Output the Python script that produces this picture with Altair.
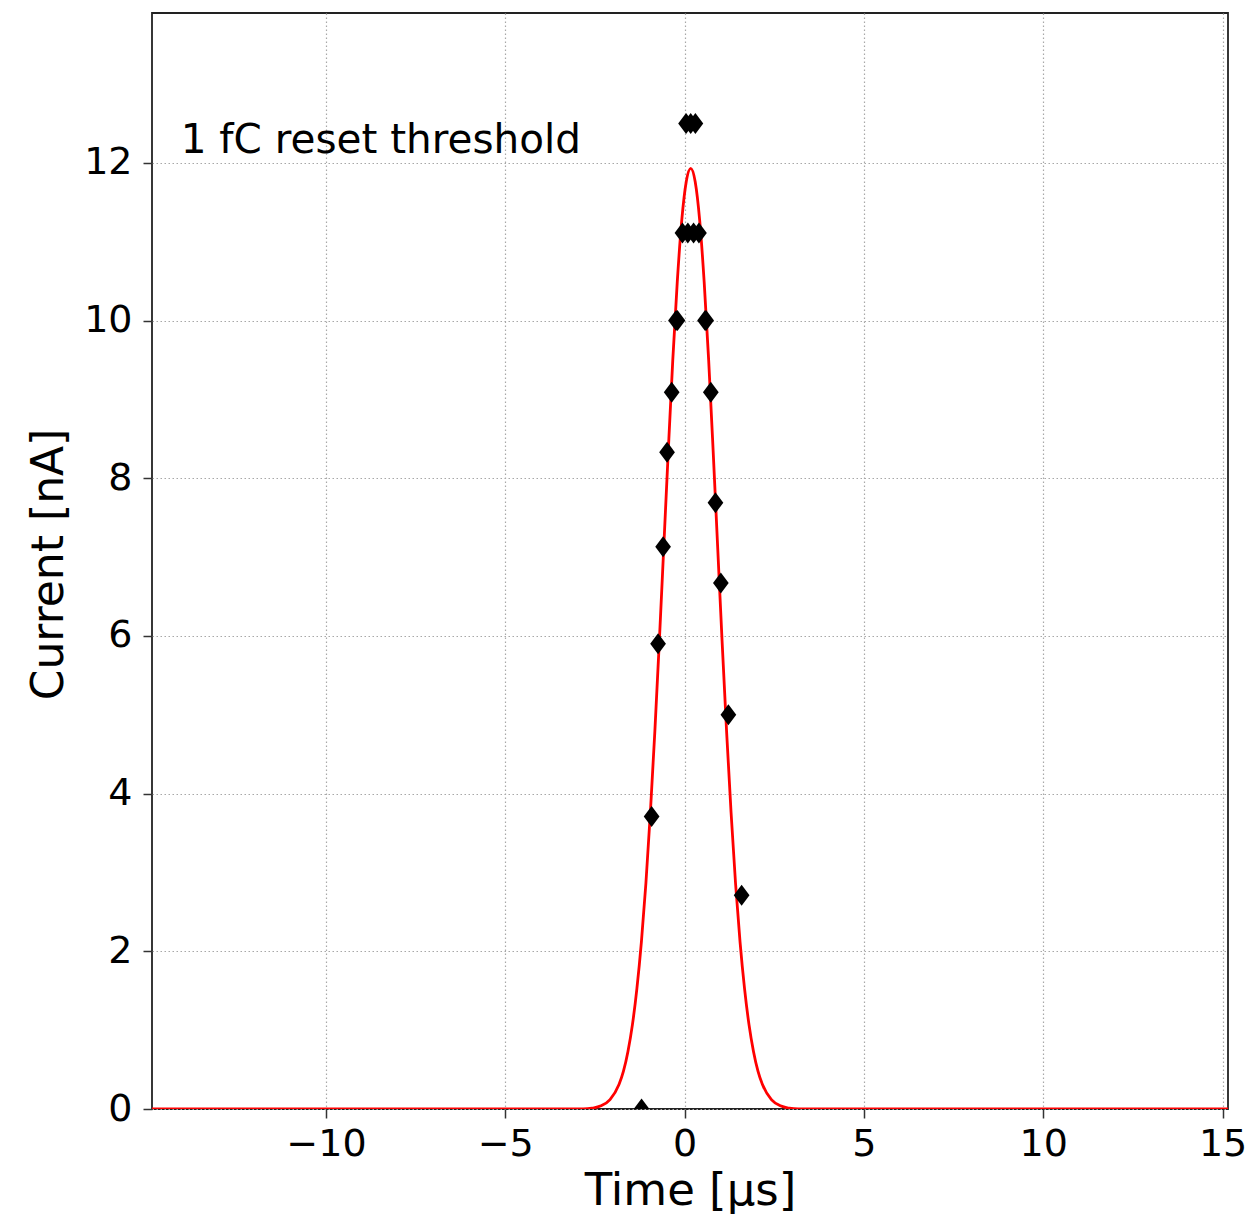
import altair as alt
import pandas as pd

# ---- data ----
curve_t = [-14.85, -2.83, -2.58, -2.33, -2.08, -1.83, -1.705, -1.58, -1.455, -1.33, -1.205,
           -1.08, -0.955, -0.83, -0.705, -0.58, -0.455, -0.33, -0.205, -0.08, 0.045, 0.17,
           0.295, 0.42, 0.545, 0.67, 0.795, 0.92, 1.045, 1.17, 1.295, 1.42, 1.545, 1.67,
           1.795, 1.92, 2.045, 2.17, 2.42, 2.67, 2.92, 3.17, 15.15]
curve_i = [0.0, 0.00, 0.01, 0.04, 0.12, 0.31, 0.48, 0.73, 1.07, 1.53, 2.12,
           2.86, 3.76, 4.79, 5.93, 7.14, 8.35, 9.50, 10.49, 11.27, 11.76, 11.93,
           11.76, 11.27, 10.49, 9.50, 8.35, 7.14, 5.93, 4.79, 3.76, 2.86, 2.12, 1.53,
           1.07, 0.73, 0.48, 0.31, 0.12, 0.04, 0.01, 0.00, 0.0]

point_t = [-1.20, -0.92, -0.74, -0.60, -0.49, -0.36, -0.24, -0.20,
           -0.06, 0.09, 0.25, 0.40, 0.04, 0.17, 0.30,
           0.57, 0.60, 0.73, 0.86, 1.01, 1.22, 1.59]
point_i = [0.0, 3.71, 5.90, 7.13, 8.33, 9.09, 10.0, 10.0,
           11.11, 11.11, 11.11, 11.11, 12.5, 12.5, 12.5,
           10.0, 10.0, 9.09, 7.69, 6.67, 5.0, 2.71]

x_ticks = [-10, -5, 0, 5, 10, 15]
y_ticks = [0, 2, 4, 6, 8, 10, 12]
x_domain = [-14.85, 15.15]
y_domain = [0, 13.9]

note_text = ["1 fC reset threshold"]
note_t = [-14.05]
note_i = [12.12]

x_title = "Time [μs]"
y_title = "Current [nA]"

FONT = "DejaVu Sans"

curve_df = pd.DataFrame({"t": curve_t, "i": curve_i})
pts_df = pd.DataFrame({"t": point_t, "i": point_i})
note_df = pd.DataFrame({"t": note_t, "i": note_i, "label": note_text})

W, H = 1076, 1096

xscale = alt.Scale(domain=x_domain, nice=False, zero=False)
yscale = alt.Scale(domain=y_domain, nice=False, zero=False)

xaxis = alt.Axis(values=x_ticks, format="d", title=x_title,
                 labelFont=FONT, labelFontSize=38, labelColor="black", labelPadding=7,
                 tickSize=9, tickWidth=1.5, tickColor="#333333",
                 grid=True, gridDash=[1.5, 2.5], gridColor="#a8a8a8", gridWidth=1.2,
                 domain=False,
                 titleFont=FONT, titleFontSize=45, titleFontWeight="normal", titleColor="black",
                 titleX=W / 2, titleY=95, titleAlign="center", titleBaseline="alphabetic")
yaxis = alt.Axis(values=y_ticks, format="d", title=y_title,
                 labelFont=FONT, labelFontSize=38, labelColor="black", labelPadding=11,
                 tickSize=9, tickWidth=1.5, tickColor="#333333",
                 grid=True, gridDash=[1.5, 2.5], gridColor="#a8a8a8", gridWidth=1.2,
                 domain=False,
                 titleFont=FONT, titleFontSize=44, titleFontWeight="normal", titleColor="black",
                 titleX=-90, titleY=551, titleAngle=270, titleAlign="center",
                 titleBaseline="alphabetic")

line = alt.Chart(curve_df).mark_line(color="#ff0000", strokeWidth=2.8, clip=True,
                                     interpolate="monotone").encode(
    x=alt.X("t:Q", scale=xscale, axis=xaxis),
    y=alt.Y("i:Q", scale=yscale, axis=yaxis),
    order="t:Q",
)

diamond = "M0,-1L0.75,0L0,1L-0.75,0Z"
points = alt.Chart(pts_df).mark_point(shape=diamond, filled=True, color="black",
                                      size=440, opacity=1, clip=True).encode(
    x=alt.X("t:Q", scale=xscale),
    y=alt.Y("i:Q", scale=yscale),
)

note = alt.Chart(note_df).mark_text(font=FONT, fontSize=40.5, align="left",
                                    baseline="alphabetic", color="black").encode(
    x=alt.X("t:Q", scale=xscale),
    y=alt.Y("i:Q", scale=yscale),
    text="label:N",
)

chart = alt.layer(line, points, note).properties(
    width=W, height=H,
    autosize=alt.AutoSizeParams(type="none"),
    padding={"left": 152, "top": 13, "right": 18, "bottom": 114},
    background="white",
).configure_view(stroke="#222222", strokeWidth=1.8)

chart.save("out.html", embed_options={"renderer": "svg", "actions": False})
